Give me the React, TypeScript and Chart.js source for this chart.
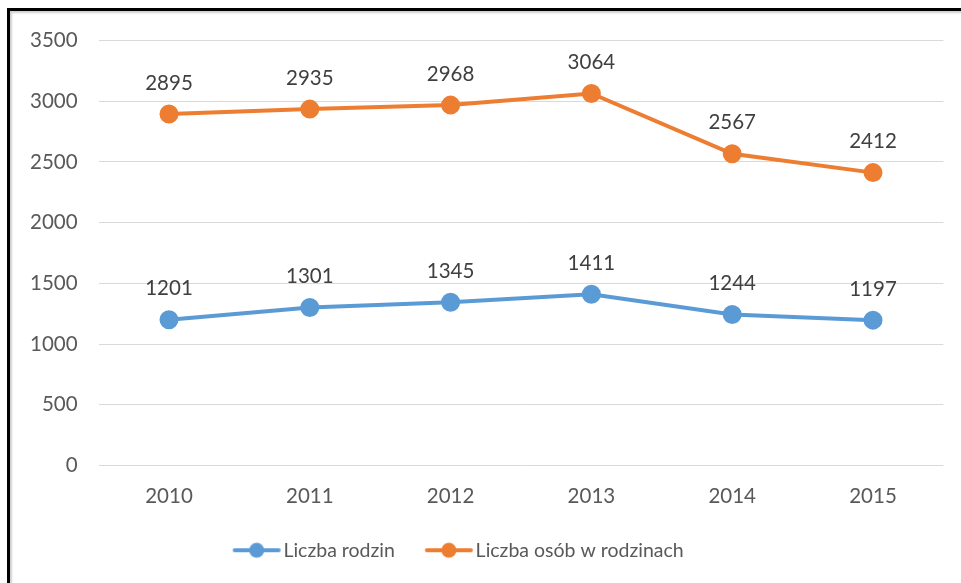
import React, { useEffect, useRef } from "react";
import { Chart, registerables } from "chart.js";

Chart.register(...registerables);

const years = ["2010", "2011", "2012", "2013", "2014", "2015"];
const families = [1201, 1301, 1345, 1411, 1244, 1197];
const persons = [2895, 2935, 2968, 3064, 2567, 2412];
const seriesNames = ["Liczba rodzin", "Liczba osób w rodzinach"];
const colors = ["#5B9BD5", "#ED7D31"];

const FONT = "Lato, 'Open Sans', sans-serif";
const FS = 20.5;
const LEGEND_FS = 19.5;
const MARK_W = 48;
const GAP_SHIFT = 8;
const LEGEND_SHIFT = -17;

function makeMarker(color: string): HTMLCanvasElement {
  const c = document.createElement("canvas");
  c.width = MARK_W + 2 * GAP_SHIFT + 2;
  c.height = 18;
  const ctx = c.getContext("2d")!;
  const x0 = 2 * GAP_SHIFT;
  ctx.strokeStyle = color;
  ctx.lineWidth = 4;
  ctx.lineCap = "round";
  ctx.beginPath();
  ctx.moveTo(x0 + 2, 9);
  ctx.lineTo(x0 + MARK_W - 2, 9);
  ctx.stroke();
  ctx.fillStyle = color;
  ctx.beginPath();
  ctx.arc(x0 + MARK_W / 2, 9, 7.5, 0, Math.PI * 2);
  ctx.fill();
  return c;
}

const dataLabels = {
  id: "dataLabels",
  afterLayout(chart: any) {
    if (chart.legend) {
      chart.legend.left += LEGEND_SHIFT;
      chart.legend.right += LEGEND_SHIFT;
    }
  },
  afterDatasetsDraw(chart: any) {
    const ctx = chart.ctx;
    ctx.save();
    ctx.font = `${FS}px ${FONT}`;
    ctx.fillStyle = "#404040";
    ctx.textAlign = "center";
    ctx.textBaseline = "middle";
    chart.data.datasets.forEach((ds: any, i: number) => {
      const meta = chart.getDatasetMeta(i);
      meta.data.forEach((pt: any, j: number) => {
        ctx.fillText(String(ds.data[j]), pt.x, pt.y - 31);
      });
    });
    ctx.restore();
  },
};

export default function App() {
  const ref = useRef<HTMLCanvasElement>(null);
  useEffect(() => {
    const markers = colors.map(makeMarker);
    const chart = new Chart(ref.current!, {
      type: "line",
      data: {
        labels: years,
        datasets: [families, persons].map((d, i) => ({
          label: seriesNames[i],
          data: d,
          borderColor: colors[i],
          backgroundColor: colors[i],
          borderWidth: 4,
          pointRadius: 7.5,
          pointHoverRadius: 7.5,
          pointBackgroundColor: colors[i],
          pointBorderColor: colors[i],
          tension: 0,
          fill: false,
        })),
      },
      options: {
        responsive: false,
        animation: false,
        layout: { padding: { left: 0, right: 17.6, top: 40.5, bottom: 13 } },
        scales: {
          x: {
            offset: true,
            grid: { display: false, drawTicks: false },
            border: { display: false },
            ticks: { color: "#595959", font: { family: FONT, size: FS }, padding: 19 },
            afterFit: (s: any) => {
              s.height = 52;
            },
          },
          y: {
            min: 0,
            max: 3500,
            ticks: {
              stepSize: 500,
              color: "#595959",
              font: { family: FONT, size: FS },
              padding: 21,
              callback: (v: any) => String(v),
            },
            grid: { color: "#d9d9d9", lineWidth: 1, drawTicks: false },
            border: { display: false },
            afterFit: (s: any) => {
              s.width = 98.6;
            },
          },
        },
        plugins: {
          legend: {
            position: "bottom",
            labels: {
              usePointStyle: true,
              pointStyleWidth: MARK_W,
              color: "#595959",
              font: { family: FONT, size: LEGEND_FS },
              padding: 23,
              generateLabels: (ch: any) =>
                ch.data.datasets.map((ds: any, i: number) => ({
                  text: ds.label,
                  fillStyle: colors[i],
                  strokeStyle: colors[i],
                  lineWidth: 0,
                  pointStyle: markers[i],
                  hidden: false,
                  datasetIndex: i,
                  fontColor: "#595959",
                })),
            },
          },
          tooltip: { enabled: false },
        },
      },
      plugins: [dataLabels],
    } as any);
    return () => chart.destroy();
  }, []);
  return (
    <div style={{ position: "fixed", left: 0, top: 0, width: 961, height: 583, background: "#fff", overflow: "hidden" }}>
      <div
        style={{
          position: "absolute",
          left: 7,
          top: 8,
          width: 980,
          height: 600,
          borderLeft: "3px solid #000",
          borderTop: "3px solid #000",
          boxShadow: "inset 2px 2px 2px #d0d0d0",
        }}
      />
      <canvas ref={ref} width={961} height={583} style={{ position: "absolute", left: 0, top: 0, display: "block" }} />
    </div>
  );
}
